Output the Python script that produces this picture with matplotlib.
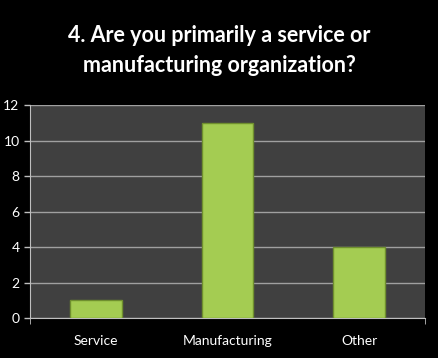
import matplotlib.pyplot as plt
import numpy as np

categories = ["Service", "Manufacturing", "Other"]
counts = [1, 11, 4]
yticks = [0, 2, 4, 6, 8, 10, 12]

plt.rcParams['font.family'] = ['Lato', 'DejaVu Sans']
fig = plt.figure(figsize=(4.38, 3.58), dpi=100, facecolor='black')
ax = fig.add_axes([30/438, 40/358, 395/438, 213/358])
ax.set_facecolor('#404040')

x = np.arange(len(categories))
ax.bar(x, counts, width=0.39, color='#a4cc52', edgecolor='#6f8f2e', linewidth=1, zorder=3)
ax.set_xlim(-0.5, len(categories) - 0.5)
ax.set_ylim(0, 12)
ax.set_yticks(yticks)
ax.set_xticks(x)
ax.set_xticklabels(categories)
ax.set_xticks([-0.5, 2.5], minor=True)
ax.grid(axis='y', color='#a0a0a0', linewidth=1, zorder=0)
ax.tick_params(axis='y', colors='#bfbfbf', labelcolor='white', labelsize=10, length=4, width=1)
ax.tick_params(axis='x', which='major', length=0, labelcolor='white', labelsize=10, pad=12)
ax.tick_params(axis='x', which='minor', length=4, color='#bfbfbf')
for side in ['top', 'right']:
    ax.spines[side].set_visible(False)
ax.spines['left'].set_color('#bfbfbf')
ax.spines['bottom'].set_color('#bfbfbf')

fig.text(0.5, 0.902, "4. Are you primarily a service or", color='white', ha='center', va='center',
         fontsize=15.5, fontweight='bold')
fig.text(0.5, 0.818, "manufacturing organization?", color='white', ha='center', va='center',
         fontsize=15.5, fontweight='bold')

fig.savefig('out.png', dpi=100, facecolor='black')
